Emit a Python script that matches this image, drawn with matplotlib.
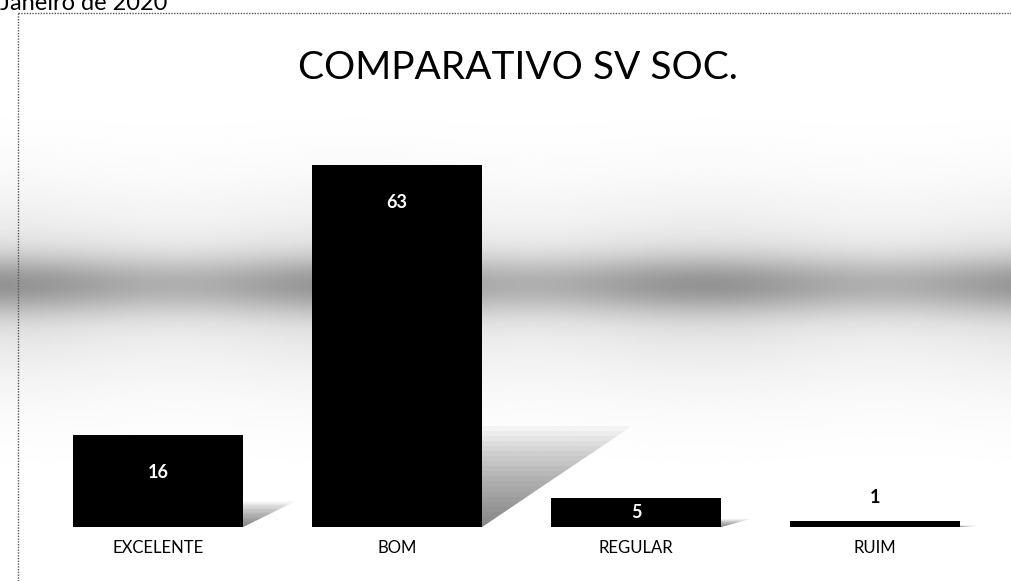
import matplotlib
matplotlib.use("Agg")
import matplotlib.pyplot as plt
import numpy as np
from matplotlib.lines import Line2D
from matplotlib.patches import Polygon

plt.rcParams['font.family'] = ['Lato', 'DejaVu Sans']

categories = ["EXCELENTE", "BOM", "REGULAR", "RUIM"]
values = [16, 63, 5, 1]
title = "COMPARATIVO SV SOC."
heading = "Janeiro de 2020"

W, H = 1012, 581
fig = plt.figure(figsize=(W / 100, H / 100), dpi=100)

# grey banded backdrop behind the plot
bg = fig.add_axes([0, 0, 1, 1])
yy = np.linspace(0, 1, 300)[:, None]
xx = np.linspace(0, 1, 600)[None, :]
band = 0.30 * np.exp(-((yy - 0.49) / 0.05) ** 2) + 0.12 * np.exp(-((yy - 0.50) / 0.16) ** 2)
band = band * (0.75 + 0.25 * np.cos(xx * 9) ** 2)
bg.imshow(1 - band, cmap="gray", vmin=0, vmax=1, aspect="auto",
          extent=[0, 1, 0, 1], origin="upper")
bg.set_axis_off()

ax = fig.add_axes([38.5 / W, 54 / H, 956 / W, 362 / H])
ax.patch.set_alpha(0)
x = np.arange(len(categories))
width = 0.71
bars = ax.bar(x, values, width=width, color="black", zorder=3)
ax.set_xlim(-0.5, len(categories) - 0.5)
ax.set_ylim(0, max(values))
ax.set_axis_off()

# soft shadow falling to the right of each bar
steps = 20
for xi, v in zip(x, values):
    x0 = xi + width / 2
    top = v * 0.28
    reach = 0.55 * v / max(values) + 0.08
    for k in range(steps):
        f = 1 - k / steps
        ax.add_patch(Polygon([(x0, 0), (x0, top * f), (x0 + reach * f, top * f)],
                             closed=True, color="#404040", alpha=0.045, lw=0, zorder=2))

# value labels: inside near the top for tall bars, centred for short ones, above for tiny ones
px_per_unit = 362 / max(values)
for xi, v in zip(x, values):
    h = v * px_per_unit
    if h > 60:
        ax.annotate(str(v), (xi, v), xytext=(0, -27), textcoords="offset points",
                    ha="center", va="center", color="white", fontsize=13, fontweight="bold")
    elif h > 20:
        ax.annotate(str(v), (xi, v / 2), ha="center", va="center",
                    color="white", fontsize=13, fontweight="bold")
    else:
        ax.annotate(str(v), (xi, v), xytext=(0, 17), textcoords="offset points",
                    ha="center", va="center", color="black", fontsize=13, fontweight="bold")

for xi, c in zip(x, categories):
    ax.annotate(c, (xi, 0), xytext=(0, -15), textcoords="offset points",
                ha="center", va="center", fontsize=12)

fig.text(0.512, 1 - 68 / H, title, ha="center", va="center", fontsize=28)
fig.text(0.0, 1 - 10 / H, heading, ha="left", va="baseline", fontsize=17)

# dotted frame around the chart
frame = dict(color="#555555", lw=1, ls=(0, (1, 1)), transform=fig.transFigure)
fig.add_artist(Line2D([18 / W, 1], [1 - 13 / H, 1 - 13 / H], **frame))
fig.add_artist(Line2D([18 / W, 18 / W], [0, 1 - 13 / H], **frame))

fig.savefig("out.png", dpi=100)
